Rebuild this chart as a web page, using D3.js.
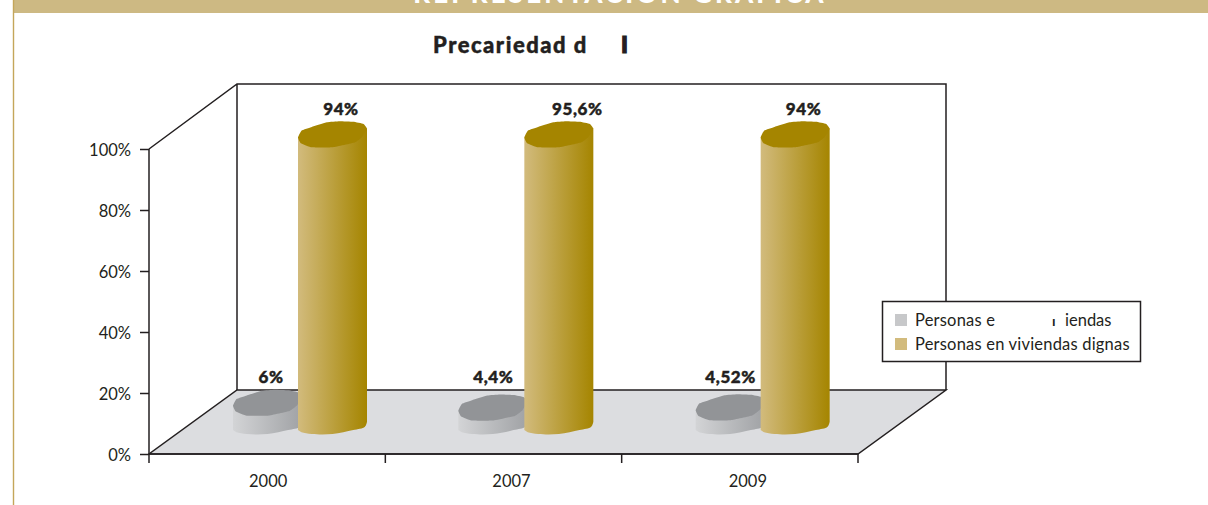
<!DOCTYPE html>
<html>
<head>
<meta charset="utf-8">
<script src="https://cdn.jsdelivr.net/npm/d3@7"></script>
<style>
  html, body { margin: 0; padding: 0; background: #fff; }
  text { font-family: Lato, "Open Sans", sans-serif; fill: #231f20; }
  .heavy { font-weight: 900; stroke: #231f20; stroke-width: .45px; }
</style>
</head>
<body>
<div id="chart"></div>
<script>
const years = ["2000", "2007", "2009"];
// labels printed on the chart
const greyLabels = ["6%", "4,4%", "4,52%"];
const goldLabels = ["94%", "95,6%", "94%"];
// heights as the bars are actually drawn (the 95,6 bar is drawn as tall as the 94 ones)
const greyValues = [6, 4.4, 4.52];
const goldValues = [94, 94, 94];
const yTicks = [0, 20, 40, 60, 80, 100];
const legendNames = ["Personas e", "Personas en viviendas dignas"];

const width = 1208, height = 505;

// plot frame
const left = 149, right = 858, base = 454, top100 = 149;
const depthX = 88, depthY = 64, wallTop = 84;
const barW = 69, capH = 26, frontGap = 20;

const x = d3.scaleBand().domain(years).range([left, right]);
const y = d3.scaleLinear().domain([0, 100]).range([base, top100]);

// small corrections, the original bars don't sit evenly in their bands
const goldDx = [149, 139, 139];
const greyDx = [84, 73, 74];
const goldLabelDx = [43, 53, 43];
const greyLabelDx = [38, 35, 35];
const yearDx = [1, 8, 8];

const ink = "#231f20";
const lineW = 1.5;

const svg = d3.select("#chart").append("svg")
  .attr("width", width)
  .attr("height", height)
  .style("display", "block");

const defs = svg.append("defs");
function gradient(id, from, to) {
  const g = defs.append("linearGradient").attr("id", id);
  g.append("stop").attr("offset", "0%").attr("stop-color", from);
  g.append("stop").attr("offset", "100%").attr("stop-color", to);
}
gradient("goldBody", "#d2bb7d", "#a58500");
gradient("greyBody", "#d3d4d6", "#a0a2a5");

// page furniture
svg.append("rect").attr("x", 13).attr("y", 0).attr("width", width - 13).attr("height", 13).attr("fill", "#cdb983");
svg.append("line").attr("x1", 13.5).attr("x2", 13.5).attr("y1", 0).attr("y2", height)
  .attr("stroke", "#c4a65a").attr("stroke-width", 1.4);
svg.append("text").attr("x", 620).attr("y", 3).attr("text-anchor", "middle")
  .style("font-size", "26px").style("font-weight", 900).style("letter-spacing", "3.1px").style("fill", "#fff")
  .text("REPRESENTACIÓN GRÁFICA");

svg.append("text").attr("class", "heavy").attr("x", 433).attr("y", 53)
  .style("font-size", "22px").style("letter-spacing", "1.5px")
  .text("Precariedad d");
svg.append("text").attr("class", "heavy").attr("x", 621).attr("y", 53)
  .style("font-size", "23px").style("stroke-width", "1.2px")
  .text("I");

// floor and walls
svg.append("path")
  .attr("d", `M${left},${base}L${right},${base}L${right + depthX},${base - depthY}L${left + depthX},${base - depthY}Z`)
  .attr("fill", "#dcdde0").attr("stroke", ink).attr("stroke-width", lineW);
svg.append("path")
  .attr("d", `M${left},${top100}L${left + depthX},${wallTop}H${right + depthX}V${base - depthY}M${left + depthX},${wallTop}V${base - depthY}`)
  .attr("fill", "none").attr("stroke", ink).attr("stroke-width", lineW);

// axes
const yAxis = d3.axisLeft(y).tickValues(yTicks).tickSize(9).tickPadding(9).tickFormat(d => d + "%");
const xAxis = d3.axisBottom(x).tickSize(9).tickSizeOuter(9).tickFormat("");

const gy = svg.append("g").attr("transform", `translate(${left},0)`).call(yAxis);
const gx = svg.append("g").attr("transform", `translate(0,${base})`).call(xAxis);

// band axis puts ticks on centres, the chart has them on the band edges
gx.selectAll(".tick").remove();
gx.selectAll("line.edge")
  .data(years.concat("end"))
  .enter().append("line")
    .attr("class", "edge")
    .attr("x1", d => d === "end" ? right : x(d))
    .attr("x2", d => d === "end" ? right : x(d))
    .attr("y1", 0).attr("y2", 9)
    .attr("stroke", ink).attr("stroke-width", lineW);

gx.select(".domain").attr("stroke", ink).attr("stroke-width", lineW).attr("d", `M${left},0H${right}`);
gy.select(".domain").attr("stroke", ink).attr("stroke-width", lineW).attr("d", `M0,${top100}V${base}`);
gy.selectAll(".tick line").attr("stroke", ink).attr("stroke-width", lineW);
gy.selectAll(".tick text").style("font-size", "16.5px").style("font-family", "Lato").attr("dy", "0.42em");

svg.append("g").selectAll("text")
  .data(years)
  .enter().append("text")
    .attr("x", (d, i) => x(d) + x.bandwidth() / 2 + yearDx[i])
    .attr("y", base + 33)
    .attr("text-anchor", "middle")
    .style("font-size", "16.5px")
    .text(d => d);

// outline of the wonky bar top, in 0..1 of bar width and cap height
const capOutline = [
  [0, .62], [.05, .36], [.2, .22], [.42, .04], [.6, 0], [.8, .02], [.95, .1],
  [1, .28], [.93, .6], [.82, .82], [.51, 1], [.2, 1], [.04, .84]
];
const lowerEdge = [[0, .85], [.05, .93], [.2, 1], [.5, 1], [.8, .85], [.97, .72], [1, .53]];

const capLine = d3.line().curve(d3.curveCardinalClosed.tension(.7));
const edgeLine = d3.line().curve(d3.curveCatmullRom);

function drawBars(cls, values, dx, bodyFill, capFill) {
  const g = svg.append("g").attr("class", cls);
  const bars = g.selectAll("g")
    .data(values)
    .enter().append("g")
      .attr("transform", (d, i) => `translate(${x(years[i]) + dx[i]},0)`);

  bars.append("path")
    .attr("fill", `url(#${bodyFill})`)
    .attr("d", d => {
      const capTop = y(d) - frontGap - capH;
      const floorTop = y(0) - frontGap - capH;
      const edge = lowerEdge.map(p => [p[0] * barW, floorTop + p[1] * capH]);
      return edgeLine(edge) + `V${capTop + .28 * capH}L0,${capTop + .62 * capH}Z`;
    });

  bars.append("path")
    .attr("fill", capFill)
    .attr("d", d => {
      const capTop = y(d) - frontGap - capH;
      return capLine(capOutline.map(p => [p[0] * barW, capTop + p[1] * capH]));
    });
}

drawBars("grey", greyValues, greyDx, "greyBody", "#929497");
drawBars("gold", goldValues, goldDx, "goldBody", "#a58500");

// data labels
svg.append("g").selectAll("text")
  .data(goldValues)
  .enter().append("text")
    .attr("class", "heavy")
    .attr("x", (d, i) => x(years[i]) + goldDx[i] + goldLabelDx[i])
    .attr("y", d => y(d) - frontGap - capH - 6)
    .attr("text-anchor", "middle")
    .style("font-size", "17px").style("letter-spacing", ".6px")
    .text((d, i) => goldLabels[i]);

svg.append("g").selectAll("text")
  .data(greyValues)
  .enter().append("text")
    .attr("class", "heavy")
    .attr("x", (d, i) => x(years[i]) + greyDx[i] + greyLabelDx[i])
    .attr("y", 383)
    .attr("text-anchor", "middle")
    .style("font-size", "17px").style("letter-spacing", ".6px")
    .text((d, i) => greyLabels[i]);

// legend
const legend = svg.append("g").attr("transform", "translate(882,301)");
legend.append("rect").attr("x", .5).attr("y", .5).attr("width", 258).attr("height", 60)
  .attr("fill", "#fff").attr("stroke", ink).attr("stroke-width", lineW);

const legendRow = legend.selectAll("g.row")
  .data(legendNames)
  .enter().append("g")
    .attr("class", "row")
    .attr("transform", (d, i) => `translate(0,${13 + i * 24})`);
legendRow.append("rect").attr("x", 13).attr("width", 12).attr("height", 12)
  .attr("fill", (d, i) => i === 0 ? "#c7c8ca" : "#d2bb7d");
legendRow.append("text").attr("x", 33).attr("y", 12)
  .style("font-size", "16.5px").style("letter-spacing", ".2px")
  .text(d => d);
// what is left of the first entry after the gap in the original
legend.append("text").attr("x", 170).attr("y", 25).style("font-size", "14px").style("font-weight", 700).text("ı");
legend.append("text").attr("x", 183).attr("y", 25).style("font-size", "16.5px").text("iendas");
</script>
</body>
</html>
